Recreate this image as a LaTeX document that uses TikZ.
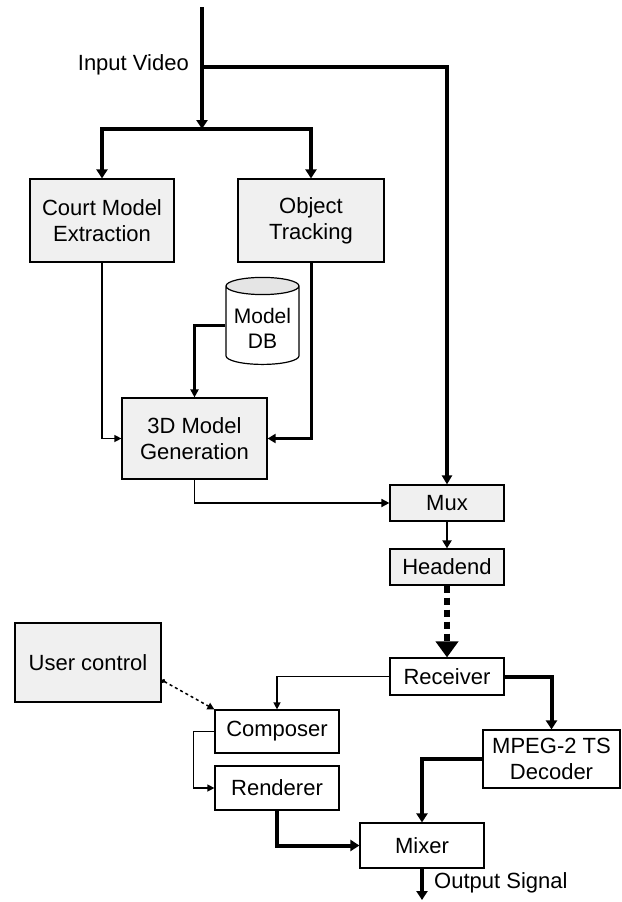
\documentclass[tikz,border=0pt]{standalone}
\usepackage{fontspec}
\setmainfont{Liberation Sans}
\usetikzlibrary{arrows.meta,shapes.geometric}

\tikzset{
  box/.style={draw, line width=1.2pt, fill=gray!12, align=center, inner sep=0pt,
    font=\fontsize{22}{26}\selectfont},
  plainbox/.style={box, fill=white},
  link/.style={line width=1.3pt, -{Triangle[length=7pt,width=7pt]}},
  boldlink/.style={line width=4pt, -{Triangle[length=9pt,width=11pt]}}
}

\begin{document}
\begin{tikzpicture}[x=1pt,y=-1pt]

  % Fix the page to the size of the reference
  \useasboundingbox (0,0) rectangle (621,902);

  % Processing boxes at the head end
  \node[box, minimum width=144pt, minimum height=83pt] (court) at (102,220.5) {Court Model\\Extraction};
  \node[box, minimum width=146pt, minimum height=83pt] (track) at (311,220.5) {Object\\Tracking};
  \node[box, minimum width=145pt, minimum height=81pt] (gen) at (194.5,438.5) {3D Model\\Generation};

  % Model database drawn as a cylinder
  \node[cylinder, shape border rotate=90, draw, line width=1.2pt, aspect=0.3,
    cylinder uses custom fill, cylinder end fill=gray!20, cylinder body fill=white,
    minimum width=73pt, minimum height=87pt, inner sep=0pt, align=center,
    font=\fontsize{21}{25}\selectfont] (db) at (262.5,325.5) {\\[-4pt]Model\\DB};

  % Transmission chain
  \node[box, minimum width=114pt, minimum height=36pt] (mux) at (447,503) {Mux};
  \node[box, minimum width=114pt, minimum height=36pt] (head) at (447,567) {Headend};

  % Boxes at the receiving side
  \node[plainbox, minimum width=114pt, minimum height=37pt] (recv) at (447,676.5) {Receiver};
  \node[box, minimum width=146pt, minimum height=79pt] (user) at (88,662.5) {User control};
  \node[plainbox, minimum width=124pt, minimum height=43pt] (comp) at (277,731.5) {Composer};
  \node[plainbox, minimum width=124pt, minimum height=44pt] (rend) at (277,788) {Renderer};
  \node[plainbox, minimum width=137pt, minimum height=58pt] (mpeg) at (551.5,759) {MPEG-2 TS\\Decoder};
  \node[plainbox, minimum width=124pt, minimum height=45pt] (mix) at (422,845.5) {Mixer};

  % Input video enters at the top and forks
  \coordinate (in) at (202,7);
  \coordinate (tee) at (202,67);
  \coordinate (fork) at (202,129);
  \coordinate (out) at (422,900);
  \draw[boldlink] (in) -- (fork);
  \draw[boldlink] (fork) -| (court.north);
  \draw[boldlink] (fork) -| (track.north);
  \draw[line width=3.5pt, -{Triangle[length=9pt,width=10pt]}] (tee) -| (mux.north);
  \node[left, inner sep=0pt, font=\fontsize{22}{26}\selectfont] (inlbl) at (189,65) {Input Video};

  % Feeds into the 3D model generation
  \draw[link] (court.south) |- (gen.west);
  \draw[line width=3pt, -{Triangle[length=8pt,width=9pt]}] (track.south) |- (gen.east);
  \draw[line width=2.5pt, -{Triangle[length=8pt,width=8pt]}] (db.west) -| (gen.north);
  \draw[line width=1.7pt, -{Triangle[length=8pt,width=8pt]}] (gen.south) |- (mux.west);

  % Mux to headend, then over the network to the receiver
  \draw[line width=2.5pt, -{Triangle[length=8pt,width=9pt]}] (mux) -- (head);
  \draw[line width=6pt, dash pattern=on 7pt off 5pt, -{Triangle[length=16pt,width=22pt]}] (head) -- (recv);

  % Receiver splits into graphics and video paths
  \draw[link] (recv.west) -| (comp.north);
  \draw[boldlink] (recv.east) -| (mpeg.north);
  \draw[line width=1.5pt, dashed, {Circle[length=4pt]}-{Triangle[length=7pt,width=7pt]}]
    ([yshift=-17.5pt]user.east) -- (comp.north west);
  \draw[link] (comp.west) -- ++(-21,0) |- (rend.west);

  % Both paths meet in the mixer
  \draw[boldlink] (rend.south) |- (mix.west);
  \draw[boldlink] (mpeg.west) -| (mix.north);
  \draw[boldlink] (mix.south) -- (out);
  \node[right, inner sep=0pt, font=\fontsize{22}{26}\selectfont] (outlbl) at (434,883) {Output Signal};

\end{tikzpicture}
\end{document}
